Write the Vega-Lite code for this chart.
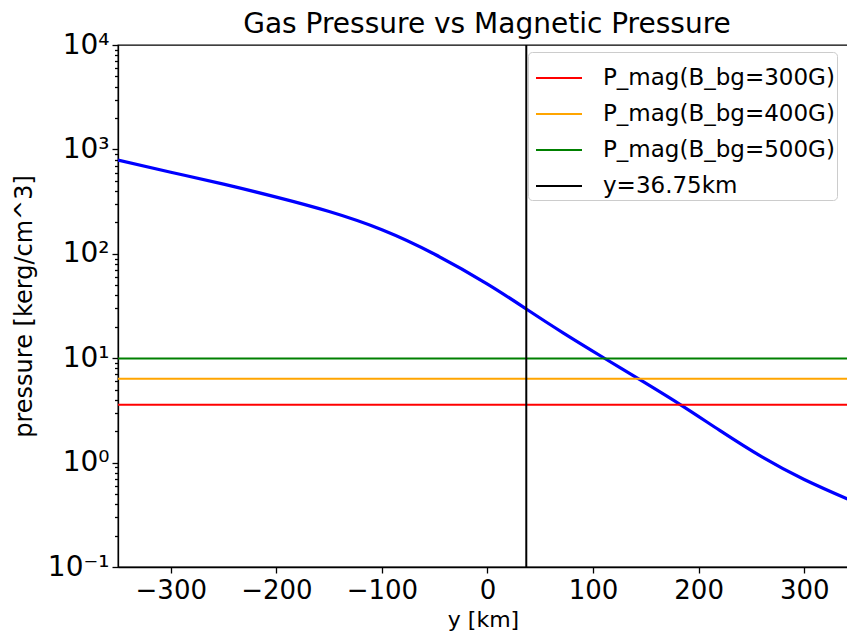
{
  "$schema": "https://vega.github.io/schema/vega-lite/v6.json",
  "autosize": {"type": "none"},
  "padding": {"left": 118, "top": 45, "right": 0, "bottom": 67},
  "width": 730,
  "height": 522,
  "config": {
    "font": "DejaVu Sans",
    "view": {"stroke": "black", "strokeWidth": 1.3},
    "axis": {"grid": false, "domainColor": "black", "tickColor": "black", "labelColor": "black", "titleColor": "black", "domainWidth": 1.3, "tickWidth": 1.3, "titleFontWeight": "normal", "labelFont": "DejaVu Sans", "titleFont": "DejaVu Sans"}
  },
  "title": {"text": "Gas Pressure vs Magnetic Pressure", "fontSize": 28, "fontWeight": "normal", "font": "DejaVu Sans", "color": "black", "anchor": "middle", "offset": -8, "dx": 4},
  "datasets": {
    "gas": [
      {"y_km": -350, "pressure": 789},
      {"y_km": -300, "pressure": 605},
      {"y_km": -250, "pressure": 465},
      {"y_km": -200, "pressure": 349},
      {"y_km": -150, "pressure": 254},
      {"y_km": -100, "pressure": 170},
      {"y_km": -50, "pressure": 99},
      {"y_km": 0, "pressure": 51.3},
      {"y_km": 36.75, "pressure": 29.6},
      {"y_km": 72, "pressure": 17.4},
      {"y_km": 110, "pressure": 10.1},
      {"y_km": 142, "pressure": 6.43},
      {"y_km": 181.5, "pressure": 3.65},
      {"y_km": 220, "pressure": 2.032},
      {"y_km": 260, "pressure": 1.132},
      {"y_km": 300, "pressure": 0.689},
      {"y_km": 340, "pressure": 0.453},
      {"y_km": 350, "pressure": 0.411}
    ],
    "pmag": [
      {"series": "P_mag(B_bg=300G)", "pressure": 3.58},
      {"series": "P_mag(B_bg=400G)", "pressure": 6.37},
      {"series": "P_mag(B_bg=500G)", "pressure": 9.95}
    ],
    "cut": [
      {"series": "y=36.75km", "y_km": 36.75}
    ]
  },
  "layer": [
    {
      "data": {"name": "gas"},
      "mark": {"type": "line", "color": "#0000ff", "strokeWidth": 3.2, "interpolate": "natural", "clip": true},
      "encoding": {
        "x": {"field": "y_km", "type": "quantitative", "scale": {"domain": [-350, 341.5], "nice": false, "zero": false},
          "axis": {"values": [-300, -200, -100, 0, 100, 200, 300], "labelExpr": "replace(format(datum.value, 'd'), '-', '\u2212')", "tickSize": 6, "labelFontSize": 26, "labelPadding": 4, "title": "y [km]", "titleFontSize": 22, "titlePadding": 6}},
        "y": {"field": "pressure", "type": "quantitative", "scale": {"type": "log", "domain": [0.1, 10000], "nice": false},
          "axis": {"values": [0.1, 0.2, 0.3, 0.4, 0.5, 0.6, 0.7, 0.8, 0.9, 1, 2, 3, 4, 5, 6, 7, 8, 9, 10, 20, 30, 40, 50, 60, 70, 80, 90, 100, 200, 300, 400, 500, 600, 700, 800, 900, 1000, 2000, 3000, 4000, 5000, 6000, 7000, 8000, 9000, 10000],
            "labelExpr": "datum.value == 0.1 ? '10\u207b\u00b9' : datum.value == 1 ? '10\u2070' : datum.value == 10 ? '10\u00b9' : datum.value == 100 ? '10\u00b2' : datum.value == 1000 ? '10\u00b3' : datum.value == 10000 ? '10\u2074' : ''",
            "labelOverlap": false, "labelFlush": false,
            "tickSize": {"condition": {"test": "indexof([0.1, 1, 10, 100, 1000, 10000], datum.value) >= 0", "value": 6}, "value": 3.5},
            "labelFontSize": 28, "labelPadding": 3, "title": "pressure [kerg/cm^3]", "titleFontSize": 24, "titlePadding": 11}}
      }
    },
    {
      "data": {"name": "pmag"},
      "mark": {"type": "rule", "strokeWidth": 2},
      "encoding": {
        "y": {"field": "pressure", "type": "quantitative"},
        "color": {"field": "series", "type": "nominal"}
      }
    },
    {
      "data": {"name": "cut"},
      "mark": {"type": "rule", "strokeWidth": 2},
      "encoding": {
        "x": {"field": "y_km", "type": "quantitative"},
        "color": {"field": "series", "type": "nominal",
          "scale": {"domain": ["P_mag(B_bg=300G)", "P_mag(B_bg=400G)", "P_mag(B_bg=500G)", "y=36.75km"], "range": ["#ff0000", "#ffa500", "#008000", "#000000"]},
          "legend": {"orient": "none", "legendX": 410, "legendY": 7, "title": null, "fillColor": "rgba(255,255,255,0.8)", "strokeColor": "#cccccc", "cornerRadius": 4, "padding": 2, "symbolType": "stroke", "symbolSize": 2116, "symbolStrokeWidth": 2, "symbolOffset": 5, "labelOffset": 20, "labelFontSize": 23, "labelFont": "DejaVu Sans", "labelColor": "black", "rowPadding": 0, "labelLimit": 400}}
      }
    }
  ]
}
